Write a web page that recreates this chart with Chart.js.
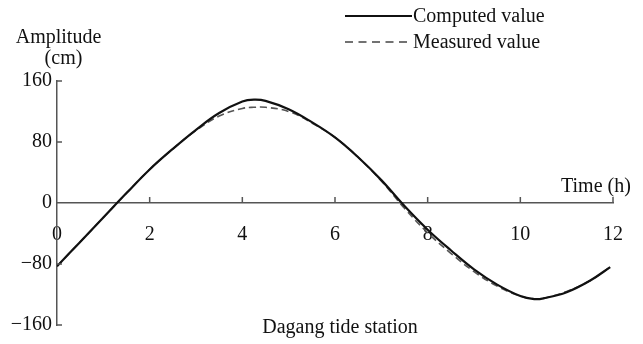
<!DOCTYPE html>
<html><head><meta charset="utf-8">
<script src="https://cdn.jsdelivr.net/npm/chart.js@4.4.1/dist/chart.umd.min.js"></script>
<style>html,body{margin:0;padding:0;background:#fff}#wrap{width:643px;height:344px;position:relative}</style>
</head><body><div id="wrap"><canvas id="c" width="643" height="344"></canvas></div>
<script>
const hours = [0,0.5,1,1.5,2,2.5,3,3.5,4,4.25,4.5,5,5.5,6,6.5,7,7.5,8,8.5,9,9.5,10,10.3,10.5,11,11.5,11.94];
const computed = [-83,-51,-19,13,44,71,96,118,133,135.5,134,123,106,86,60,30,-4,-35,-62,-87,-107,-122,-126,-125,-117,-102,-84];
const measured = [-83,-51,-19,13,44,71,95,114,124,125.5,125.5,120,105,86,60,29,-7,-39,-66,-90,-109,-122,-125.5,-125,-116,-102,-84];
const yTicks = [-160,-80,0,80,160];
const xTicks = [0,2,4,6,8,10,12];
const labels = {series:["Computed value","Measured value"], yTitle:["Amplitude","(cm)"], xTitle:"Time (h)", caption:"Dagang tide station"};

const FONT = "'Liberation Serif','Times New Roman',serif";
const AXIS = '#555';

const decor = {
  id:'decor',
  afterDraw(chart){
    const ctx = chart.ctx, xs = chart.scales.x, ys = chart.scales.y;
    ctx.save();
    ctx.strokeStyle = AXIS; ctx.lineWidth = 1.5;
    const x0 = xs.getPixelForValue(0), y0 = ys.getPixelForValue(0);
    ctx.beginPath();
    yTicks.forEach(v=>{ if(v===0) return; const p = ys.getPixelForValue(v); ctx.moveTo(x0, p); ctx.lineTo(x0+5, p); });
    xTicks.forEach(v=>{ if(v===0) return; const p = xs.getPixelForValue(v); ctx.moveTo(p, y0); ctx.lineTo(p, y0-6); });
    ctx.stroke();
    // legend
    ctx.fillStyle = '#111';
    ctx.font = '20px ' + FONT;
    ctx.textBaseline = 'alphabetic';
    ctx.textAlign = 'left';
    ctx.strokeStyle = '#111'; ctx.lineWidth = 2.2;
    ctx.beginPath(); ctx.moveTo(345,16); ctx.lineTo(412,16); ctx.stroke();
    ctx.strokeStyle = '#444'; ctx.lineWidth = 1.5; ctx.setLineDash([8,5.5]);
    ctx.beginPath(); ctx.moveTo(345,42); ctx.lineTo(412,42); ctx.stroke();
    ctx.setLineDash([]);
    ctx.fillText(labels.series[0], 413, 22);
    ctx.fillText(labels.series[1], 413, 48);
    // axis titles
    ctx.textAlign = 'center';
    ctx.fillText(labels.yTitle[0], 58.5, 42.5);
    ctx.fillText(labels.yTitle[1], 63.5, 63.5);
    ctx.textAlign = 'left';
    ctx.fillText(labels.xTitle, 561, 191.5);
    ctx.textAlign = 'center';
    ctx.fillText(labels.caption, 340, 333);
    ctx.restore();
  }
};

new Chart(document.getElementById('c'), {
  type:'line',
  data:{datasets:[
    {label:labels.series[0], data:hours.map((h,i)=>({x:h,y:computed[i]})), borderColor:'#111', borderWidth:2.2, pointRadius:0, tension:0.4, fill:false, order:0},
    {label:labels.series[1], data:hours.map((h,i)=>({x:h,y:measured[i]})), borderColor:'#555', borderWidth:1.6, borderDash:[7,4], pointRadius:0, tension:0.4, fill:false, order:1}
  ]},
  options:{
    responsive:false, animation:false, devicePixelRatio:1,
    layout:{padding:{left:0,right:20,top:81,bottom:19}},
    plugins:{legend:{display:false}, tooltip:{enabled:false}, title:{display:false}},
    scales:{
      x:{type:'linear', min:0, max:12, position:{y:0},
         afterFit(s){ s.height = 0; },
         afterBuildTicks(s){ s.ticks = xTicks.map(v=>({value:v})); },
         grid:{display:false, drawTicks:false},
         border:{display:true, color:AXIS, width:1.5},
         ticks:{padding:20, color:'#111', font:{family:FONT, size:20}, maxRotation:0, autoSkip:false}},
      y:{type:'linear', min:-160, max:160,
         afterFit(s){ s.width = 57; },
         afterBuildTicks(s){ s.ticks = yTicks.map(v=>({value:v})); },
         grid:{display:false, drawTicks:false},
         border:{display:true, color:AXIS, width:1.5},
         ticks:{padding:5, color:'#111', font:{family:FONT, size:20}, callback:v=> v<0 ? '\u2212'+Math.abs(v) : String(v)}}
    }
  },
  plugins:[decor]
});
</script></body></html>
